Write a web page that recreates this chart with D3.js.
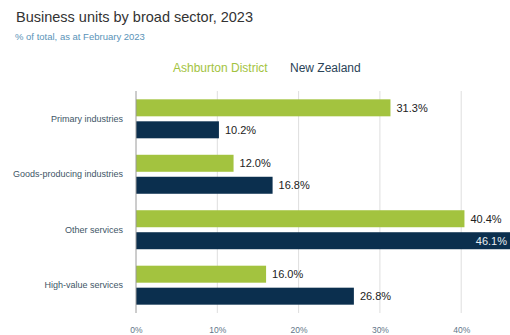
<!DOCTYPE html>
<html>
<head>
<meta charset="utf-8">
<script src="https://cdn.jsdelivr.net/npm/d3@7"></script>
<style>
  html, body { margin: 0; padding: 0; background: #fff; overflow: hidden; }
  svg { display: block; font-family: "Liberation Sans", Arial, sans-serif; }
</style>
</head>
<body>
<svg id="chart" width="510" height="335"></svg>
<script>
// Business units by broad sector, 2023 (% of total)
const categories = ["Primary industries", "Goods-producing industries", "Other services", "High-value services"];
const seriesNames = ["Ashburton District", "New Zealand"];
const ashburton = [31.3, 12.0, 40.4, 16.0];
const newZealand = [10.2, 16.8, 46.1, 26.8];
const tickValues = [0, 10, 20, 30, 40];

const colors = ["#a3c33f", "#0b2f4e"];
const seriesValues = [ashburton, newZealand];

const svg = d3.select("#chart");
const W = 510;

// Title and subtitle
svg.append("text").attr("x", 16).attr("y", 22)
  .attr("font-size", 14.5).attr("fill", "#333")
  .text("Business units by broad sector, 2023");
svg.append("text").attr("x", 15).attr("y", 40)
  .attr("font-size", 9.5).attr("fill", "#5a93b8")
  .text("% of total, as at February 2023");

// Legend
const legend = [{ x: 173, name: seriesNames[0], c: colors[0] }, { x: 290, name: seriesNames[1], c: "#2a4357" }];
legend.forEach(l => {
  svg.append("text").attr("x", l.x).attr("y", 72)
    .attr("font-size", 12).attr("fill", l.c).text(l.name);
});

// Scales
const x = d3.scaleLinear().domain([0, 10]).range([136, 217.3]);
const y = d3.scaleBand().domain(categories).range([91, 313]).paddingInner(0.297).paddingOuter(0.15);
const ySub = d3.scaleBand().domain(seriesNames).range([0, y.bandwidth()]).paddingInner(0.227);

// Gridlines
svg.append("g").selectAll("line").data(tickValues.slice(1)).join("line")
  .attr("x1", d => x(d)).attr("x2", d => x(d))
  .attr("y1", 91).attr("y2", 313)
  .attr("stroke", "#dedede").attr("stroke-width", 1);

// X axis tick labels
const xAxis = d3.axisBottom(x).tickValues(tickValues).tickSize(0).tickFormat(d => d + "%");
const gx = svg.append("g").attr("transform", "translate(0,324)").call(xAxis);
gx.select(".domain").remove();
gx.selectAll("text").attr("font-size", 8.5).attr("fill", "#5f7689")
  .attr("font-family", "Liberation Sans, Arial, sans-serif");

// Category labels
svg.append("g").selectAll("text").data(categories).join("text")
  .attr("x", 123).attr("y", d => y(d) + y.bandwidth() / 2 + 3)
  .attr("text-anchor", "end").attr("font-size", 9).attr("fill", "#3e5566")
  .text(d => d);

// Bars
const rows = [];
categories.forEach((c, i) => {
  seriesNames.forEach((s, j) => rows.push({ cat: c, series: s, j, v: seriesValues[j][i] }));
});

svg.append("g").selectAll("rect").data(rows).join("rect")
  .attr("x", x(0))
  .attr("y", d => y(d.cat) + ySub(d.series))
  .attr("width", d => x(d.v) - x(0))
  .attr("height", ySub.bandwidth())
  .attr("fill", d => colors[d.j]);

// Value labels
svg.append("g").selectAll("text").data(rows).join("text")
  .each(function (d) {
    const end = x(d.v);
    const inside = end + 40 > W;
    d3.select(this)
      .attr("x", inside ? Math.min(end, W) - 3 : end + 6)
      .attr("text-anchor", inside ? "end" : "start")
      .attr("fill", inside ? "#e8eef3" : "#222");
  })
  .attr("y", d => y(d.cat) + ySub(d.series) + ySub.bandwidth() / 2 + 4)
  .attr("font-size", 11)
  .text(d => d.v.toFixed(1) + "%");

// Zero axis line
svg.append("line").attr("x1", x(0)).attr("x2", x(0)).attr("y1", 91).attr("y2", 313)
  .attr("stroke", "#9a9a9a").attr("stroke-width", 1);
</script>
</body>
</html>
